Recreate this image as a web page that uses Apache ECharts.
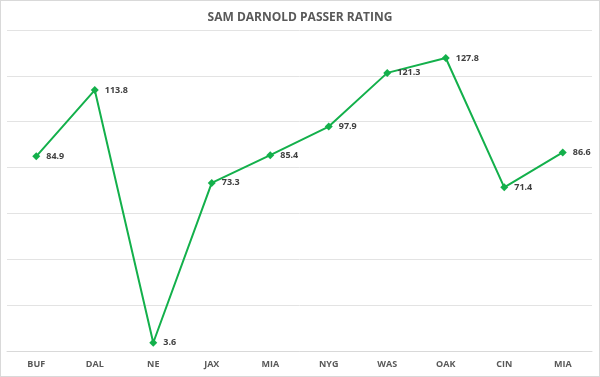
<!DOCTYPE html>
<html>
<head>
<meta charset="utf-8">
<script src="https://cdn.jsdelivr.net/npm/echarts@6/dist/echarts.min.js"></script>
<style>
  html, body { margin: 0; padding: 0; background: #fff; }
  #chart { width: 598px; height: 375px; border: 1px solid #d9d9d9; }
</style>
</head>
<body>
<div id="chart"></div>
<script>
const opponents = ['BUF', 'DAL', 'NE', 'JAX', 'MIA', 'NYG', 'WAS', 'OAK', 'CIN', 'MIA'];
const passerRating = [84.9, 113.8, 3.6, 73.3, 85.4, 97.9, 121.3, 127.8, 71.4, 86.6];

const green = '#13b04b';
const chart = echarts.init(document.getElementById('chart'));

chart.setOption({
  animation: false,
  title: {
    text: 'SAM DARNOLD PASSER RATING',
    left: 'center',
    top: 6,
    textStyle: { fontFamily: 'Open Sans', fontSize: 12, fontWeight: 'bold', color: '#595959' }
  },
  grid: { left: 6, right: 7, top: 29, bottom: 25 },
  xAxis: {
    type: 'category',
    data: opponents,
    boundaryGap: true,
    axisLine: { lineStyle: { color: '#d9d9d9' } },
    axisTick: { show: false },
    axisLabel: { fontFamily: 'Open Sans', fontSize: 9, fontWeight: 'bold', color: '#595959', margin: 9 }
  },
  yAxis: {
    type: 'value',
    min: 0,
    max: 140,
    interval: 20,
    axisLabel: { show: false },
    axisLine: { show: false },
    axisTick: { show: false },
    splitLine: { lineStyle: { color: '#e3e3e3' } }
  },
  series: [{
    type: 'line',
    data: passerRating,
    symbol: 'diamond',
    symbolSize: 8,
    itemStyle: { color: green },
    lineStyle: { color: green, width: 2 },
    label: {
      show: true,
      position: 'right',
      distance: 6,
      fontFamily: 'Open Sans',
      fontSize: 9,
      fontWeight: 'bold',
      color: '#404040',
      formatter: p => p.value.toFixed(1)
    }
  }]
});
</script>
</body>
</html>
